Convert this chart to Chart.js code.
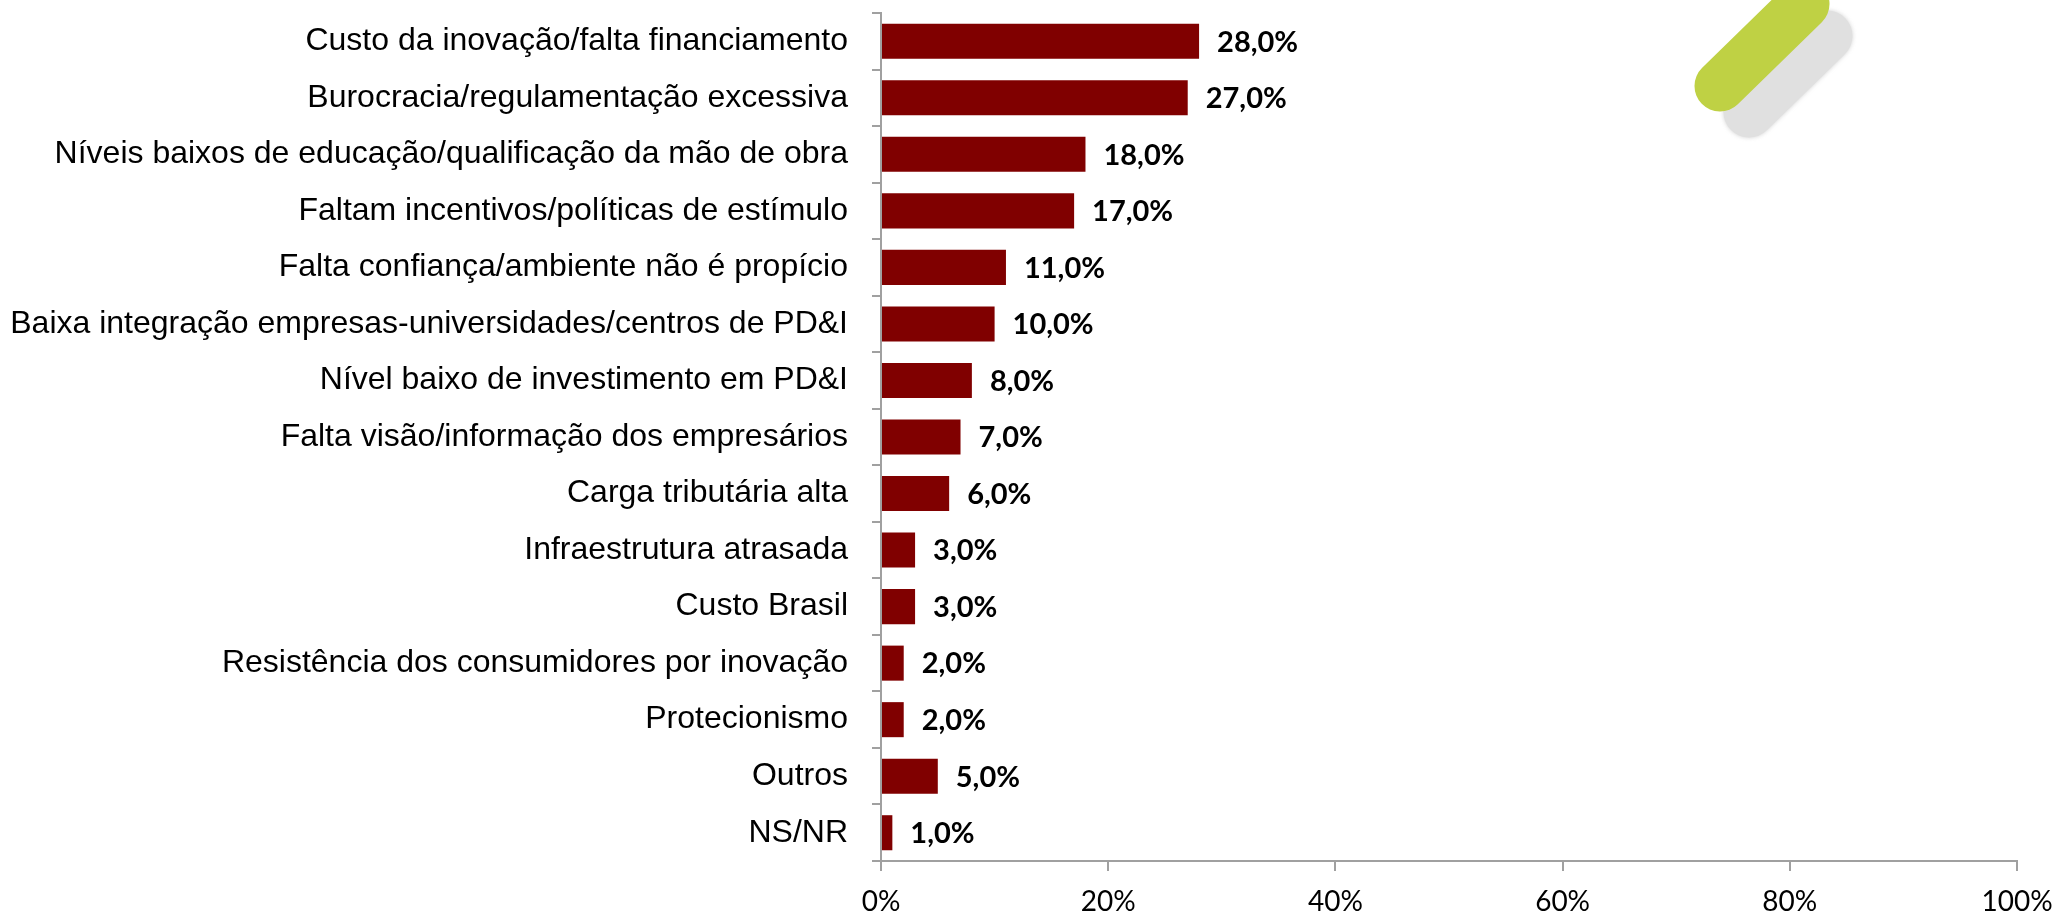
<!DOCTYPE html>
<html>
<head>
<meta charset="utf-8">
<script src="https://cdn.jsdelivr.net/npm/chart.js@4/dist/chart.umd.min.js"></script>
<style>
  html, body { margin: 0; padding: 0; background: #fff; }
  #wrap { width: 2057px; height: 916px; position: relative; }
</style>
</head>
<body>
<div id="wrap"><canvas id="c" width="2057" height="916"></canvas></div>
<script>
const categories = [
  "Custo da inovação/falta financiamento",
  "Burocracia/regulamentação excessiva",
  "Níveis baixos de educação/qualificação da mão de obra",
  "Faltam incentivos/políticas de estímulo",
  "Falta confiança/ambiente não é propício",
  "Baixa integração empresas-universidades/centros de PD&I",
  "Nível baixo de investimento em PD&I",
  "Falta visão/informação dos empresários",
  "Carga tributária alta",
  "Infraestrutura atrasada",
  "Custo Brasil",
  "Resistência dos consumidores por inovação",
  "Protecionismo",
  "Outros",
  "NS/NR"
];
const values = [28, 27, 18, 17, 11, 10, 8, 7, 6, 3, 3, 2, 2, 5, 1];
const xTicks = [0, 20, 40, 60, 80, 100];

const decoPlugin = {
  id: 'deco',
  beforeDraw(chart) {
    const ctx = chart.ctx;
    ctx.save();
    ctx.fillStyle = '#ffffff';
    ctx.fillRect(0, 0, chart.width, chart.height);
    ctx.lineCap = 'round';
    ctx.lineWidth = 51;
    ctx.strokeStyle = '#e0e0e0';
    ctx.shadowColor = 'rgba(200,200,200,0.8)';
    ctx.shadowBlur = 4;
    ctx.beginPath();
    ctx.moveTo(1749, 112);
    ctx.lineTo(1827, 36);
    ctx.stroke();
    ctx.shadowBlur = 0;
    ctx.shadowColor = 'transparent';
    ctx.strokeStyle = '#bfd144';
    ctx.beginPath();
    ctx.moveTo(1720, 86);
    ctx.lineTo(1804, 4);
    ctx.stroke();
    ctx.restore();
  }
};

const labelPlugin = {
  id: 'valLabels',
  afterDatasetsDraw(chart) {
    const ctx = chart.ctx;
    const meta = chart.getDatasetMeta(0);
    ctx.save();
    ctx.font = 'bold 29px Lato';
    ctx.fillStyle = '#000000';
    ctx.textAlign = 'left';
    ctx.textBaseline = 'middle';
    meta.data.forEach((bar, i) => {
      const txt = values[i].toFixed(1).replace('.', ',') + '%';
      ctx.fillText(txt, bar.x + 18, bar.y + 1);
    });
    ctx.restore();
  }
};

new Chart(document.getElementById('c'), {
  type: 'bar',
  data: {
    labels: categories,
    datasets: [{
      data: values,
      backgroundColor: '#800000',
      borderWidth: 0,
      barPercentage: 0.62,
      categoryPercentage: 1.0
    }]
  },
  options: {
    indexAxis: 'y',
    responsive: false,
    animation: false,
    devicePixelRatio: 1,
    layout: { padding: { top: 13, right: 40, bottom: 0, left: 0 } },
    plugins: { legend: { display: false }, tooltip: { enabled: false } },
    scales: {
      y: {
        afterFit(scale) { scale.width = 881; scale.paddingTop = 0; scale.paddingBottom = 0; },
        grid: { drawOnChartArea: false, offset: true, tickLength: 9, color: '#a0a0a0', lineWidth: 2 },
        border: { color: '#a0a0a0', width: 2 },
        ticks: {
          padding: 24,
          color: '#000000',
          font: { family: '"Liberation Sans", Arial, sans-serif', size: 32 },
          autoSkip: false
        }
      },
      x: {
        min: 0,
        max: 100,
        afterFit(scale) { scale.height = 55; scale.paddingLeft = 0; scale.paddingRight = 0; },
        afterBuildTicks(scale) { scale.ticks = xTicks.map(v => ({ value: v })); },
        grid: { drawOnChartArea: false, tickLength: 10, color: '#a0a0a0', lineWidth: 2 },
        border: { color: '#a0a0a0', width: 2 },
        ticks: {
          padding: 14,
          color: '#000000',
          maxRotation: 0,
          font: { family: 'Lato, sans-serif', size: 28 },
          callback: (v) => v + '%'
        }
      }
    }
  },
  plugins: [decoPlugin, labelPlugin]
});
</script>
</body>
</html>
